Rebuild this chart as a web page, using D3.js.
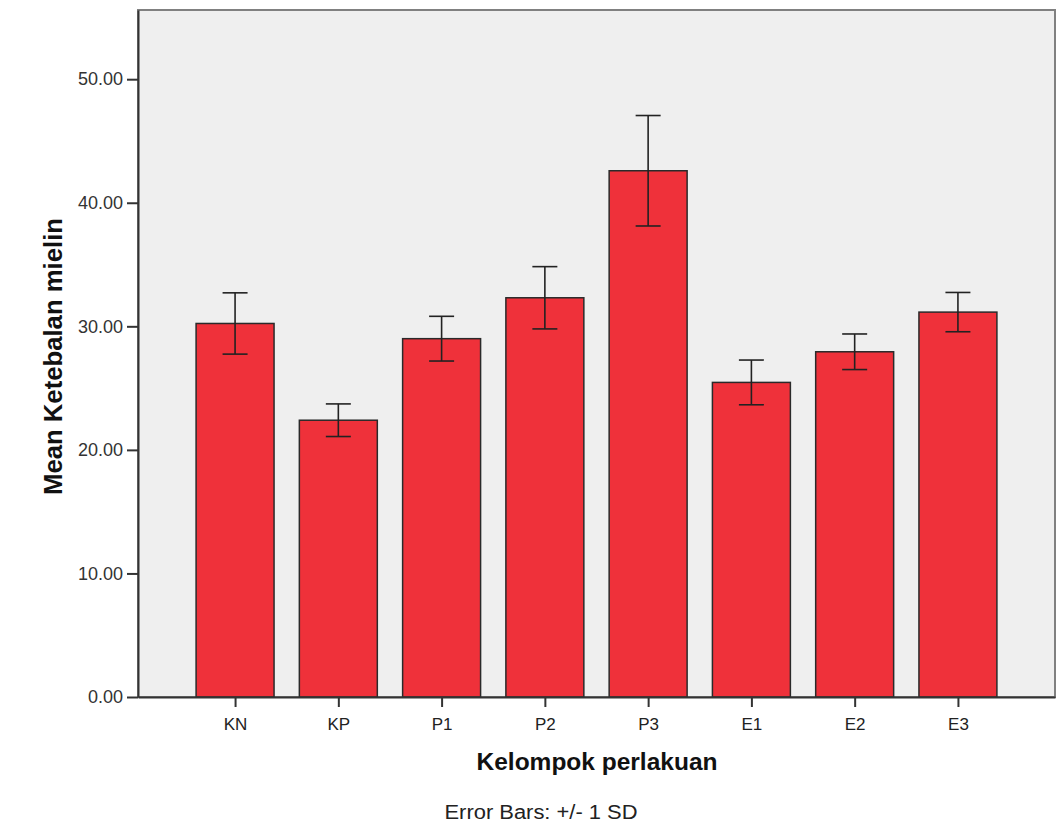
<!DOCTYPE html>
<html><head><meta charset="utf-8">
<script src="https://cdn.jsdelivr.net/npm/d3@7"></script>
<style>body{margin:0;background:#fff;} text{font-family:"Liberation Sans",Arial,sans-serif;}</style>
</head><body><svg id="c" width="1056" height="823"></svg>
<script>
const categories = ["KN","KP","P1","P2","P3","E1","E2","E3"];
const means = [30.23, 22.40, 29.00, 32.31, 42.59, 25.46, 27.94, 31.15];
const sds = [2.48, 1.32, 1.81, 2.52, 4.47, 1.81, 1.44, 1.59];
const yTicks = [0, 10, 20, 30, 40, 50];

const svg = d3.select("#c");
const L = 138, R = 1055, T = 10, B = 697;
const x = d3.scalePoint().domain(categories).range([L, R]).padding(0.94);
const y = d3.scaleLinear().domain([0, 55.6]).range([B, T]);
const bw = x.step() * 0.755;

svg.append("rect").attr("x", L).attr("y", T).attr("width", R - L).attr("height", B - T)
  .attr("fill", "#efefef").attr("stroke", "#808080").attr("stroke-width", 2);

svg.selectAll(".bar").data(categories).enter().append("rect")
  .attr("x", d => x(d) - bw / 2)
  .attr("y", (d, i) => y(means[i]))
  .attr("width", bw)
  .attr("height", (d, i) => y(0) - y(means[i]))
  .attr("fill", "#ef313a").attr("stroke", "#2a2a2a").attr("stroke-width", 1.5);

const eb = svg.append("g").attr("stroke", "#222").attr("stroke-width", 1.6);
categories.forEach((c, i) => {
  const cx = x(c), hi = y(means[i] + sds[i]), lo = y(means[i] - sds[i]);
  eb.append("line").attr("x1", cx).attr("x2", cx).attr("y1", hi).attr("y2", lo);
  eb.append("line").attr("x1", cx - 12.5).attr("x2", cx + 12.5).attr("y1", hi).attr("y2", hi);
  eb.append("line").attr("x1", cx - 12.5).attr("x2", cx + 12.5).attr("y1", lo).attr("y2", lo);
});

const ya = svg.append("g").attr("transform", `translate(${L},0)`)
  .call(d3.axisLeft(y).tickValues(yTicks).tickFormat(d3.format(".2f")).tickSize(11).tickSizeOuter(0).tickPadding(4));
ya.select(".domain").attr("stroke", "#333").attr("stroke-width", 2);
ya.selectAll(".tick line").attr("stroke", "#333").attr("stroke-width", 2);
ya.selectAll(".tick text").attr("font-size", 18).attr("fill", "#333");

const xa = svg.append("g").attr("transform", `translate(0,${B})`)
  .call(d3.axisBottom(x).tickSize(10).tickSizeOuter(0).tickPadding(11));
xa.select(".domain").attr("stroke", "#333").attr("stroke-width", 2);
xa.selectAll(".tick line").attr("stroke", "#333").attr("stroke-width", 2);
xa.selectAll(".tick text").attr("fill", "#222").attr("font-family", "DejaVu Sans").attr("font-size", 17);

svg.append("text").attr("transform", `translate(62,${(T + B) / 2 + 3}) rotate(-90)`)
  .attr("text-anchor", "middle").attr("font-size", 25).attr("font-weight", "bold").attr("fill", "#111")
  .attr("textLength", 277).attr("lengthAdjust", "spacingAndGlyphs")
  .text("Mean Ketebalan mielin");
svg.append("text").attr("x", 597).attr("y", 770).attr("text-anchor", "middle")
  .attr("font-size", 23).attr("font-weight", "bold").attr("fill", "#111")
  .attr("textLength", 241).attr("lengthAdjust", "spacingAndGlyphs").text("Kelompok perlakuan");
svg.append("text").attr("x", 541).attr("y", 819).attr("text-anchor", "middle")
  .attr("font-size", 20).attr("fill", "#222")
  .attr("textLength", 193).attr("lengthAdjust", "spacingAndGlyphs").text("Error Bars: +/- 1 SD");
</script></body></html>
